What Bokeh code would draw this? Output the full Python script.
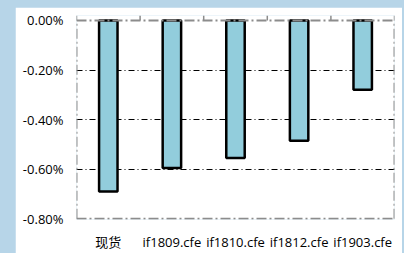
from bokeh.plotting import figure
from bokeh.models import (FactorRange, Range1d, FixedTicker, PrintfTickFormatter,
                          ColumnDataSource, GlobalInlineStyleSheet, Span)
from bokeh.embed import file_html
from bokeh.resources import INLINE

categories = ["现货", "if1809.cfe", "if1810.cfe", "if1812.cfe", "if1903.cfe"]
values = [-0.69, -0.595, -0.555, -0.485, -0.28]   # percent
y_ticks = [0.0, -0.2, -0.4, -0.6, -0.8]

FONT = "'Open Sans', 'Noto Sans CJK SC'"
BG = "#b7d5e8"
BORDER = "#8c8c8c"
DASH = "10 3 2 3"

n = len(categories)
y_min, y_max = y_ticks[-1], y_ticks[0]
tick_len = 0.02  # little tick marks above the zero line

src = ColumnDataSource(dict(cat=categories, val=values))

p = figure(x_range=FactorRange(*categories), y_range=Range1d(y_min - 0.003, y_max + tick_len),
           width=387, height=246, output_backend="svg", toolbar_location=None,
           min_border_left=61, min_border_right=8, min_border_top=8, min_border_bottom=33,
           background_fill_color="white", border_fill_color="white")
p.margin = (7, 0, 0, 15)
p.outline_line_color = None

# grid
p.xgrid.grid_line_color = None
p.ygrid.ticker = FixedTicker(ticks=y_ticks[1:-1])
p.ygrid.grid_line_color = "black"
p.ygrid.grid_line_width = 1
p.ygrid.grid_line_dash = "6 3 1 3"

# box borders (left/right at category boundaries, bottom at axis min, top = zero line)
bnd = list(range(n + 1))
p.segment(x0=[bnd[0], bnd[-1]], y0=[y_min, y_min], x1=[bnd[0], bnd[-1]], y1=[y_max, y_max],
          line_color=BORDER, line_width=2, line_dash=DASH)
p.add_layout(Span(location=y_min, dimension="width", line_color=BORDER, line_width=2, line_dash=DASH))
p.add_layout(Span(location=y_max, dimension="width", line_color=BORDER, line_width=2, line_dash=DASH))
# tick marks above zero line at category boundaries
p.segment(x0=bnd, y0=[y_max] * (n + 1), x1=bnd, y1=[y_max + tick_len] * (n + 1),
          line_color=BORDER, line_width=1.5)

p.vbar(x="cat", top=0, bottom="val", width=0.29, source=src,
       fill_color="#92cddc", line_color="black", line_width=2.5)

# y axis
p.yaxis.ticker = FixedTicker(ticks=y_ticks)
p.yaxis.formatter = PrintfTickFormatter(format="%.2f%%")
p.yaxis.axis_line_color = None
p.yaxis.major_tick_line_color = None
p.yaxis.minor_tick_line_color = None
p.yaxis.major_tick_out = 0
p.yaxis.major_tick_in = 0
p.yaxis.major_label_standoff = 13
p.yaxis.major_label_text_font = FONT
p.yaxis.major_label_text_font_size = "13px"
p.yaxis.major_label_text_color = "black"

# x axis (labels only)
p.xaxis.axis_line_color = None
p.xaxis.major_tick_line_color = None
p.xaxis.major_tick_out = 0
p.xaxis.major_tick_in = 0
p.xaxis.major_label_standoff = 13
p.xaxis.major_label_text_font = FONT
p.xaxis.major_label_text_font_size = "13px"
p.xaxis.major_label_text_color = "black"

p.stylesheets = [GlobalInlineStyleSheet(css=f"html, body {{ background: {BG}; }}")]

open("out.html", "w").write(file_html(p, INLINE))
